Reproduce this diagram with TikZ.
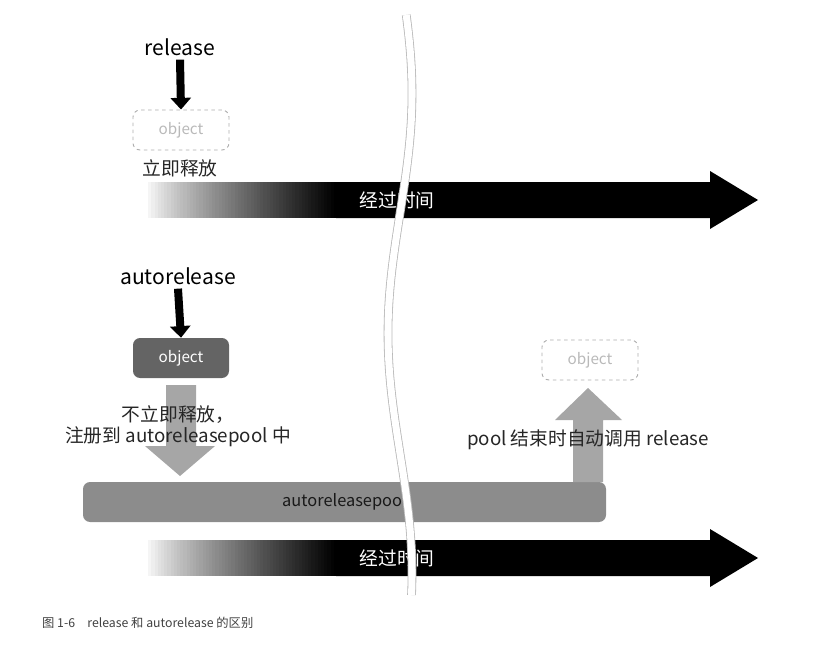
\documentclass[tikz,border=0pt]{standalone}
\usepackage{fontspec}
\setmainfont{Noto Sans CJK SC}
\usetikzlibrary{arrows.meta}
\begin{document}
\begin{tikzpicture}[x=0.03cm,y=-0.03cm,
  lbl/.style={font=\fontsize{16}{18}\selectfont,text=black!85},
  big/.style={font=\fontsize{18}{20}\selectfont},
  objd/.style={draw=gray!65,dashed,line width=0.8pt,rounded corners=6pt,minimum width=96*0.03cm,minimum height=40*0.03cm,text=gray!55,font=\fontsize{13}{15}\selectfont},
  objf/.style={fill=gray!65!black!90,rounded corners=6pt,minimum width=96*0.03cm,minimum height=40*0.03cm,text=white,font=\fontsize{13}{15}\selectfont},
  darr/.style={line width=0.24cm,-{Triangle[length=0.35cm,width=0.6cm]}}]
\useasboundingbox (0,0) rectangle (815,648);
% time arrows
\foreach \y/\n in {200/t1,558/t2}{
  \foreach \i in {0,...,59}{
    \pgfmathsetmacro\p{100*(\i/59)^0.8}
    \fill[black!\p] (145+\i*3.2,\y-18) rectangle (145+\i*3.2+3.4,\y+18);
  }
  \fill[black] (336,\y-18) -- (710,\y-18) -- (710,\y-29) -- (758,\y) -- (710,\y+29) -- (710,\y+18) -- (336,\y+18) -- cycle;
  \node[text=white,font=\fontsize{16}{18}\selectfont] (\n) at (397,\y) {经过时间};
}
% top part
\node[big] (rel) at (180,47) {release};
\node[objd] (o1) at (181,130) {object};
\draw[darr] (rel.south) -- (o1.north);
\node[lbl] (l1) at (180,168) {立即释放};
% bottom part
\node[big] (arel) at (178,276) {autorelease};
\node[objf] (o2) at (181,358) {object};
\draw[darr] (arel.south) -- (o2.north);
\node[fill=gray!90,rounded corners=6pt,minimum width=523*0.03cm,minimum height=40*0.03cm,font=\fontsize{14}{16}\selectfont,text=black!90] (pool) at (344.5,502) {autoreleasepool};
\coordinate (a1) at (180,385);
\fill[gray!70] (166,385) -- (196,385) -- (196,446) -- (215,446) -- (180,476) -- (145,446) -- (166,446) -- cycle;
\node[lbl,align=center] (l2) at (178,426) {不立即释放，\\注册到 autoreleasepool 中};
\node[objd] (o3) at (590,360) {object};
\fill[gray!70] (573,482) -- (603,482) -- (603,420) -- (622,420) -- (588,388) -- (555,420) -- (573,420) -- cycle;
\node[lbl] (l3) at (588,440) {pool 结束时自动调用 release};
% wavy lines
\draw[gray!55,double=white,double distance=6pt,line width=0.7pt]
  plot[domain=15:595,samples=120,smooth] ({400+12*sin(\x*0.75+20)},\x);
\node[anchor=west,font=\fontsize{10.5}{12}\selectfont,text=black!75] (cap) at (38,623) {图 1-6\quad release 和 autorelease 的区别};
\end{tikzpicture}
\end{document}
